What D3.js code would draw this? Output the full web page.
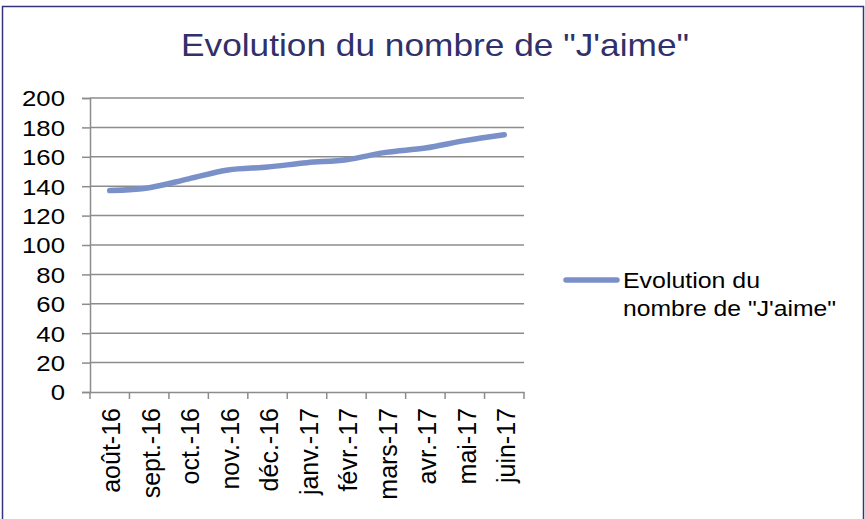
<!DOCTYPE html>
<html lang="fr">
<head>
    <meta charset="UTF-8">
    <title>Evolution du nombre de "J'aime"</title>
    <script src="https://cdn.jsdelivr.net/npm/d3@7/dist/d3.min.js"></script>
    <style>
        body { margin: 0; background: #fff; }
        text { font-family: "Liberation Sans", Arial, sans-serif; }
    </style>
</head>
<body>
    <svg></svg>
    <script>
        // données
        let months = ["août-16", "sept.-16", "oct.-16", "nov.-16", "déc.-16", "janv.-17",
                      "févr.-17", "mars-17", "avr.-17", "mai-17", "juin-17"];
        let likes = [137, 139, 145, 151, 153, 156, 158, 163, 166, 171, 175];
        let yTicks = [0, 20, 40, 60, 80, 100, 120, 140, 160, 180, 200];
        let seriesName = ["Evolution du", "nombre de \"J'aime\""];

        let width = 865, height = 519;
        let plot = {left: 90, right: 524, top: 98, bottom: 392};
        let lineColor = "#7a90c8", gridColor = "#8c8c8c";
        let font = "Liberation Sans, Arial, sans-serif";

        let svg = d3.select("svg").attr("width", width).attr("height", height);

        // cadre
        svg.append("rect")
            .attr("x", 2.5).attr("y", 6.5)
            .attr("width", 861).attr("height", 520)
            .attr("fill", "#fff").attr("stroke", "#35347a").attr("stroke-width", 1.5);

        // titre
        svg.append("text")
            .attr("x", 435).attr("y", 56)
            .attr("text-anchor", "middle")
            .attr("font-size", 32)
            .attr("fill", "#30306a")
            .attr("textLength", 508)
            .attr("lengthAdjust", "spacingAndGlyphs")
            .text("Evolution du nombre de \"J'aime\"");

        let x = d3.scaleBand().domain(months).range([plot.left, plot.right]);
        let y = d3.scaleLinear().domain([0, 200]).range([plot.bottom, plot.top]);

        // axe Y + grille
        let yAxis = svg.append("g")
            .attr("transform", "translate(" + plot.left + ",0)")
            .call(d3.axisLeft(y).tickValues(yTicks).tickSize(8));
        yAxis.select(".domain").attr("stroke", gridColor).attr("stroke-width", 1.5);
        yAxis.selectAll(".tick line").attr("stroke", gridColor).attr("stroke-width", 1.5);
        // le texte de l'original est un peu étiré en largeur
        yAxis.selectAll(".tick text")
            .attr("font-size", 22).attr("fill", "#000").attr("font-family", font)
            .attr("x", -25 / 1.17).attr("dy", "0.36em")
            .attr("transform", "scale(1.17,1)");

        svg.append("g").selectAll("line")
            .data(yTicks.filter(d => d > 0))
            .enter().append("line")
            .attr("x1", plot.left).attr("x2", plot.right)
            .attr("y1", d => y(d)).attr("y2", d => y(d))
            .attr("stroke", gridColor).attr("stroke-width", 1.5);

        // axe X
        let xAxis = svg.append("g")
            .attr("transform", "translate(0," + plot.bottom + ")")
            .call(d3.axisBottom(x).tickSize(0).tickPadding(0));
        xAxis.select(".domain").attr("stroke", gridColor).attr("stroke-width", 1.5);
        xAxis.selectAll(".tick text")
            .attr("font-size", 25).attr("fill", "#000").attr("font-family", font)
            .attr("transform", "translate(2,16) rotate(-90)")
            .attr("text-anchor", "end")
            .attr("x", 0).attr("y", 0).attr("dy", "0.35em");
        // graduations entre les catégories
        svg.append("g").selectAll("line")
            .data(months.map(m => x(m)).concat([x(months[months.length - 1]) + x.bandwidth()]))
            .enter().append("line")
            .attr("x1", d => d).attr("x2", d => d)
            .attr("y1", plot.bottom).attr("y2", plot.bottom + 7)
            .attr("stroke", gridColor).attr("stroke-width", 1.5);

        // courbe
        let line = d3.line()
            .x((d, i) => x(months[i]) + x.bandwidth() / 2)
            .y(d => y(d))
            .curve(d3.curveMonotoneX);
        svg.append("path")
            .datum(likes)
            .attr("d", line)
            .attr("fill", "none")
            .attr("stroke", lineColor)
            .attr("stroke-width", 5.5)
            .attr("stroke-linecap", "round")
            .attr("stroke-linejoin", "round");

        // légende
        svg.append("line")
            .attr("x1", 566).attr("x2", 617)
            .attr("y1", 280).attr("y2", 280)
            .attr("stroke", lineColor).attr("stroke-width", 5.5)
            .attr("stroke-linecap", "round");
        let legendWidths = [137, 213];
        svg.append("g").selectAll("text")
            .data(seriesName)
            .enter().append("text")
            .attr("x", 623)
            .attr("y", (d, i) => 288 + i * 28)
            .attr("font-size", 22).attr("fill", "#000")
            .attr("textLength", (d, i) => legendWidths[i])
            .attr("lengthAdjust", "spacingAndGlyphs")
            .text(d => d);
    </script>
</body>
</html>
